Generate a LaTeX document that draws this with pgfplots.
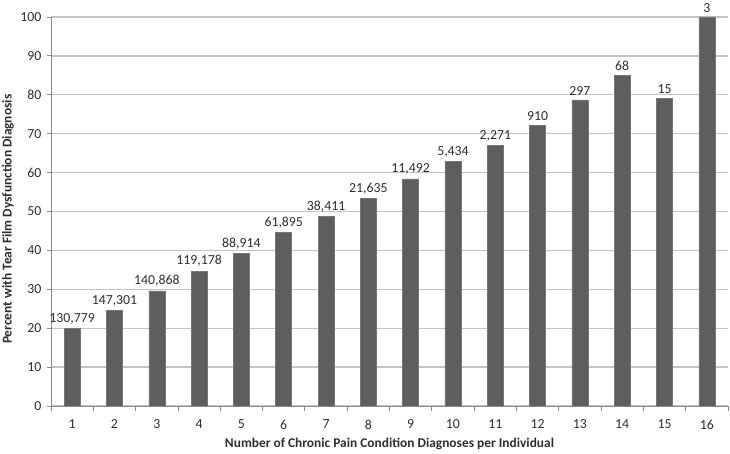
\documentclass[border=0pt]{standalone}
\usepackage{fontspec}
\setmainfont{Carlito}
\usepackage{pgfplots}
\pgfplotsset{compat=1.18}
\usepackage{pgfplotstable}
\definecolor{barfill}{HTML}{5E5E5E}
\definecolor{gridgray}{HTML}{C4C4C4}
\definecolor{axisgray}{HTML}{8A8A8A}
\definecolor{labeltext}{HTML}{2E2E2E}

% count of diagnoses, percent with tear film dysfunction, n per group
\pgfplotstableread{
n pct label
1  19.9  130,779
2  24.6  147,301
3  29.6  140,868
4  34.7  119,178
5  39.2  88,914
6  44.6  61,895
7  48.8  38,411
8  53.3  21,635
9  58.4  11,492
10 62.8  5,434
11 67.0  2,271
12 72.2  910
13 78.7  297
14 85.0  68
15 79.1  15
16 100   3
}\painData

\begin{document}
\begin{tikzpicture}
\begin{axis}[
  scale only axis, width=677pt, height=389pt,
  xmin=0.5, xmax=16.5, ymin=0, ymax=100,
  ybar, bar width=16pt,
  xtick={1,...,16}, ytick={0,10,...,100},
  minor xtick={0.5,1.5,...,16.5},
  axis lines*=left,
  axis line style={axisgray, line width=0.8pt},
  tick align=outside,
  major x tick style={draw=none},
  minor x tick style={axisgray, line width=0.8pt},
  minor tick length=5pt,
  major y tick style={axisgray, line width=0.8pt},
  major tick length=4pt,
  ymajorgrids, grid style={gridgray, line width=1.3pt},
  ticklabel style={font=\fontsize{13.8}{14}\selectfont, text=labeltext},
  /pgf/number format/assume math mode=true,
  xticklabel style={yshift=-6.5pt},
  yticklabel style={xshift=-2pt},
  xlabel={Number of Chronic Pain Condition Diagnoses per Individual},
  ylabel={Percent with Tear Film Dysfunction Diagnosis},
  xlabel style={font=\bfseries\fontsize{13.4}{14}\selectfont, text=labeltext,
    at={(axis description cs:0.5,0)}, anchor=center, yshift=-37.5pt},
  ylabel style={font=\bfseries\fontsize{13.4}{14}\selectfont, text=labeltext,
    at={(axis description cs:-0.0635,0.48)}, anchor=center},
  point meta=explicit symbolic,
  nodes near coords,
  every node near coord/.append style={font=\fontsize{13.8}{14}\selectfont,
    text=labeltext, inner sep=2pt, yshift=2pt},
]
\addplot[fill=barfill, draw=barfill!85!white, line width=0.5pt]
  table[x=n, y=pct, meta=label]{\painData};
\end{axis}
\pgfresetboundingbox
\path[use as bounding box] ([shift={(-51pt,-48pt)}]current axis.south west)
  rectangle ([shift={(2pt,17pt)}]current axis.north east);
\end{tikzpicture}
\end{document}
